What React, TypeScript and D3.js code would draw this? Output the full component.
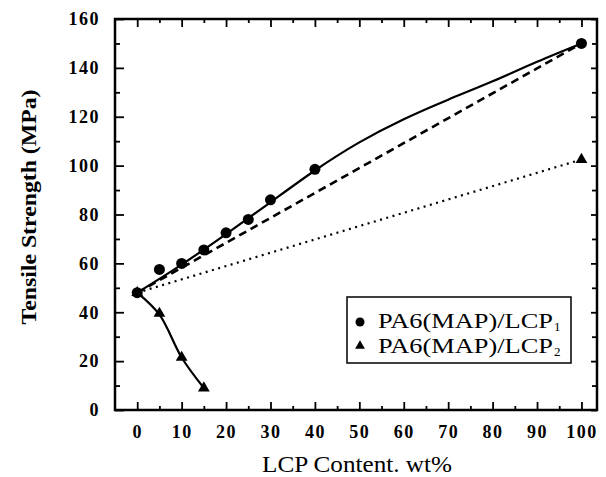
import React, { useEffect, useRef } from "react";
import * as d3 from "d3";

// measured points
const lcpContent1 = [0, 5, 10, 15, 20, 25, 30, 40, 100];
const strength1 = [48, 57.5, 60, 65.5, 72.5, 78, 86, 98.5, 150];
const lcpContent2 = [0, 5, 10, 15, 100];
const strength2 = [48, 39.5, 21.5, 9, 102.5];

// solid fitted curves
const fitX1 = [0, 10, 20, 30, 40, 50, 60, 70, 80, 90, 100];
const fitY1 = [48, 59.5, 72, 85, 98, 109.5, 119, 127, 134.5, 142.5, 150];
const fitX2 = [0, 5, 10, 15];
const fitY2 = [48, 39, 21.5, 9];

// straight reference lines (dashed: LCP1, dotted: LCP2)
const dashedX = [0, 100];
const dashedY = [48, 150];
const dottedX = [0, 100];
const dottedY = [48, 102.5];

const xTicks = [0, 10, 20, 30, 40, 50, 60, 70, 80, 90, 100];
const xMinorTicks = [5, 15, 25, 35, 45, 55, 65, 75, 85, 95];
const yTicks = [0, 20, 40, 60, 80, 100, 120, 140, 160];
const yMinorTicks = [10, 30, 50, 70, 90, 110, 130, 150];

const legendLabels = ["PA6(MAP)/LCP", "PA6(MAP)/LCP"];
const legendSubs = ["1", "2"];

const App = () => {
  const chartRef = useRef<SVGSVGElement>(null);

  useEffect(() => {
    document.body.style.margin = "0";
    const svg = d3.select(chartRef.current);
    svg.selectAll("*").remove();

    const width = 606;
    const height = 477;
    const margin = { top: 19, right: 9, bottom: 67, left: 115 };
    const font = "'Liberation Serif', 'Times New Roman', serif";

    svg.attr("width", width).attr("height", height);

    const x = d3
      .scaleLinear()
      .domain([-5, 103.5])
      .range([margin.left, width - margin.right]);
    const y = d3
      .scaleLinear()
      .domain([0, 160])
      .range([height - margin.bottom, margin.top]);

    const x0 = margin.left;
    const x1 = width - margin.right;
    const y0 = height - margin.bottom;
    const y1 = margin.top;

    const styleAxis = (g) => {
      g.select(".domain").remove();
      g.selectAll(".tick line").attr("stroke", "#000").attr("stroke-width", 1.8);
      g.selectAll("text")
        .attr("fill", "#000")
        .style("font-family", font)
        .style("font-weight", "bold")
        .style("font-size", "18px")
        .style("letter-spacing", "1.5px");
    };

    const noLabel = () => "";

    // bottom axis
    svg
      .append("g")
      .attr("transform", `translate(0,${y0})`)
      .call(d3.axisBottom(x).tickValues(xTicks).tickSize(-8).tickPadding(15))
      .call(styleAxis);
    svg
      .append("g")
      .attr("transform", `translate(0,${y0})`)
      .call(d3.axisBottom(x).tickValues(xMinorTicks).tickSize(-4).tickFormat(noLabel))
      .call(styleAxis);

    // top axis
    svg
      .append("g")
      .attr("transform", `translate(0,${y1})`)
      .call(d3.axisTop(x).tickValues(xTicks).tickSize(-8).tickFormat(noLabel))
      .call(styleAxis);
    svg
      .append("g")
      .attr("transform", `translate(0,${y1})`)
      .call(d3.axisTop(x).tickValues(xMinorTicks).tickSize(-4).tickFormat(noLabel))
      .call(styleAxis);

    // left axis
    svg
      .append("g")
      .attr("transform", `translate(${x0},0)`)
      .call(d3.axisLeft(y).tickValues(yTicks).tickSize(-9).tickPadding(15))
      .call(styleAxis);
    svg
      .append("g")
      .attr("transform", `translate(${x0},0)`)
      .call(d3.axisLeft(y).tickValues(yMinorTicks).tickSize(-5).tickFormat(noLabel))
      .call(styleAxis);

    // right axis
    svg
      .append("g")
      .attr("transform", `translate(${x1},0)`)
      .call(d3.axisRight(y).tickValues(yTicks).tickSize(-6).tickFormat(noLabel))
      .call(styleAxis);
    svg
      .append("g")
      .attr("transform", `translate(${x1},0)`)
      .call(d3.axisRight(y).tickValues(yMinorTicks).tickSize(-5).tickFormat(noLabel))
      .call(styleAxis);

    // frame
    svg
      .append("rect")
      .attr("x", x0)
      .attr("y", y1)
      .attr("width", x1 - x0)
      .attr("height", y0 - y1)
      .attr("fill", "none")
      .attr("stroke", "#000")
      .attr("stroke-width", 2.5);

    const line = d3
      .line<[number, number]>()
      .x((d) => x(d[0]))
      .y((d) => y(d[1]));

    const pairs = (xs: number[], ys: number[]) =>
      xs.map((v, i) => [v, ys[i]] as [number, number]);

    // dotted reference line
    svg
      .append("path")
      .attr("d", line(pairs(dottedX, dottedY)))
      .attr("fill", "none")
      .attr("stroke", "#000")
      .attr("stroke-width", 2.2)
      .attr("stroke-dasharray", "2,4.5");

    // dashed reference line
    svg
      .append("path")
      .attr("d", line(pairs(dashedX, dashedY)))
      .attr("fill", "none")
      .attr("stroke", "#000")
      .attr("stroke-width", 2.6)
      .attr("stroke-dasharray", "8,5");

    // solid fitted curves
    svg
      .append("path")
      .attr("d", line.curve(d3.curveNatural)(pairs(fitX1, fitY1)))
      .attr("fill", "none")
      .attr("stroke", "#000")
      .attr("stroke-width", 2.2);

    svg
      .append("path")
      .attr("d", line.curve(d3.curveCatmullRom)(pairs(fitX2, fitY2)))
      .attr("fill", "none")
      .attr("stroke", "#000")
      .attr("stroke-width", 2.2);

    // markers
    svg
      .selectAll(".circ")
      .data(pairs(lcpContent1, strength1))
      .enter()
      .append("circle")
      .attr("class", "circ")
      .attr("cx", (d) => x(d[0]))
      .attr("cy", (d) => y(d[1]))
      .attr("r", 5.5)
      .attr("fill", "#000");

    const tri = d3.symbol().type(d3.symbolTriangle).size(60);
    svg
      .selectAll(".tri")
      .data(pairs(lcpContent2, strength2))
      .enter()
      .append("path")
      .attr("class", "tri")
      .attr("d", tri)
      .attr("transform", (d) => `translate(${x(d[0])},${y(d[1])})`)
      .attr("fill", "#000");

    // legend
    const lg = svg.append("g");
    lg.append("rect")
      .attr("x", 347)
      .attr("y", 297)
      .attr("width", 224)
      .attr("height", 66)
      .attr("fill", "#fff")
      .attr("stroke", "#000")
      .attr("stroke-width", 1.5);

    lg.append("circle").attr("cx", 360).attr("cy", 322).attr("r", 4.5).attr("fill", "#000");
    lg.append("path")
      .attr("d", d3.symbol().type(d3.symbolTriangle).size(42)())
      .attr("transform", "translate(360,346)")
      .attr("fill", "#000");

    legendLabels.forEach((label, i) => {
      const by = 328 + i * 25;
      lg.append("text")
        .attr("x", 378)
        .attr("y", by)
        .attr("textLength", 175)
        .attr("lengthAdjust", "spacingAndGlyphs")
        .attr("fill", "#000")
        .style("font-family", font)
        .style("font-size", "20px")
        .text(label);
      lg.append("text")
        .attr("x", 554)
        .attr("y", by + 3)
        .attr("fill", "#000")
        .style("font-family", font)
        .style("font-size", "13px")
        .text(legendSubs[i]);
    });

    // axis titles
    svg
      .append("text")
      .attr("x", 357)
      .attr("y", 472)
      .attr("text-anchor", "middle")
      .attr("textLength", 190)
      .attr("lengthAdjust", "spacingAndGlyphs")
      .attr("fill", "#000")
      .style("font-family", font)
      .style("font-size", "23px")
      .text("LCP Content. wt%");

    svg
      .append("text")
      .attr("transform", "translate(36,207) rotate(-90)")
      .attr("text-anchor", "middle")
      .attr("textLength", 235)
      .attr("lengthAdjust", "spacingAndGlyphs")
      .attr("fill", "#000")
      .style("font-family", font)
      .style("font-weight", "bold")
      .style("font-size", "21px")
      .text("Tensile Strength (MPa)");
  }, []);

  return <svg ref={chartRef} style={{ display: "block" }}></svg>;
};

export default App;
